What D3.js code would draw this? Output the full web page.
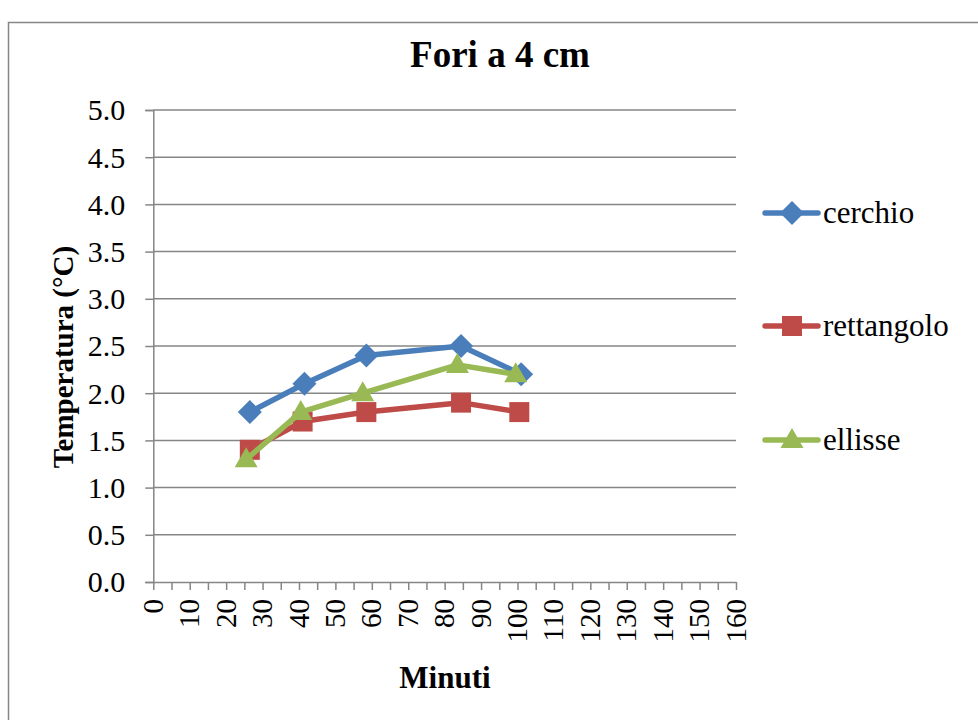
<!DOCTYPE html>
<html>
<head>
<meta charset="utf-8">
<script src="https://cdn.jsdelivr.net/npm/d3@7"></script>
<style>
  html, body { margin: 0; padding: 0; background: #ffffff; }
  svg { display: block; }
  text { font-family: "Liberation Serif", "Times New Roman", serif; fill: #000; }
</style>
</head>
<body>
<svg id="chart" width="978" height="720"></svg>
<script>
// ---- data ----
const seriesNames = ["cerchio", "rettangolo", "ellisse"];
const cerchioX = [26.5, 41.5, 58.5, 84.5, 101];
const cerchioY = [1.8, 2.1, 2.4, 2.5, 2.2];
const rettangoloX = [26.5, 41, 58.5, 84.5, 100.5];
const rettangoloY = [1.4, 1.7, 1.8, 1.9, 1.8];
const ellisseX = [25.5, 40.5, 57.5, 83.5, 99.5];
const ellisseY = [1.3, 1.8, 2.0, 2.3, 2.2];
const xTicks = [0, 10, 20, 30, 40, 50, 60, 70, 80, 90, 100, 110, 120, 130, 140, 150, 160];
const yTicks = [0.0, 0.5, 1.0, 1.5, 2.0, 2.5, 3.0, 3.5, 4.0, 4.5, 5.0];
const chartTitle = "Fori a 4 cm";
const xTitle = "Minuti";
const yTitle = "Temperatura (°C)";

(function () {
const colors = ["#4a7ebb", "#be4b48", "#98b954"];

// custom marker paths (centered at 0,0)
const markerPath = [
  "M0,-12L12,0L0,12L-12,0Z",          // diamond
  "M-10,-10L10,-10L10,10L-10,10Z",    // square
  "M0,-12L11.5,8L-11.5,8Z"            // triangle
];

const series = [
  { name: seriesNames[0], pts: cerchioX.map((x, i) => [x, cerchioY[i]]) },
  { name: seriesNames[1], pts: rettangoloX.map((x, i) => [x, rettangoloY[i]]) },
  { name: seriesNames[2], pts: ellisseX.map((x, i) => [x, ellisseY[i]]) }
];

const svg = d3.select("#chart");

// outer border
svg.append("rect")
  .attr("x", 8.5).attr("y", 22.5)
  .attr("width", 1000).attr("height", 800)
  .attr("fill", "#fff").attr("stroke", "#868686").attr("stroke-width", 1.5);

const pLeft = 153.3, pRight = 736, pTop = 110, pBottom = 582;
const x = d3.scaleLinear().domain([0, 160]).range([pLeft, pRight]);
const y = d3.scaleLinear().domain([0, 5]).range([pBottom, pTop]);

const gridColor = "#868686";

// gridlines
svg.append("g").selectAll("line").data(yTicks.slice(1)).join("line")
  .attr("x1", pLeft).attr("x2", pRight)
  .attr("y1", d => y(d)).attr("y2", d => y(d))
  .attr("stroke", gridColor).attr("stroke-width", 1.5);

// y axis
const yAxis = svg.append("g").attr("transform", `translate(${pLeft},0)`)
  .call(d3.axisLeft(y).tickValues(yTicks).tickFormat(d3.format(".1f")).tickSize(8).tickPadding(20));
yAxis.attr("font-family", null).attr("font-size", null);
yAxis.select(".domain").attr("stroke", gridColor).attr("stroke-width", 1.5);
yAxis.selectAll(".tick line").attr("stroke", gridColor).attr("stroke-width", 1.5);
yAxis.selectAll(".tick text").style("font-size", "30px").attr("fill", "#000").attr("dy", "0.33em");

// x axis
const minorTicks = d3.range(0, 161, 5);
const xAxis = svg.append("g").attr("transform", `translate(0,${pBottom})`)
  .call(d3.axisBottom(x).tickValues(minorTicks).tickFormat("").tickSize(8).tickSizeOuter(0));
xAxis.select(".domain").attr("stroke", gridColor).attr("stroke-width", 1.5);
xAxis.selectAll(".tick line").attr("stroke", gridColor).attr("stroke-width", 1.5);

svg.append("g").selectAll("text").data(xTicks).join("text")
  .attr("transform", d => `translate(${x(d)},${pBottom + 17}) rotate(-90)`)
  .attr("text-anchor", "end")
  .attr("dy", "0.33em")
  .style("font-size", "29px")
  .text(d => d);

// lines and markers
const line = d3.line().x(d => x(d[0])).y(d => y(d[1]));
series.forEach((s, i) => {
  svg.append("path").datum(s.pts)
    .attr("d", line).attr("fill", "none")
    .attr("stroke", colors[i]).attr("stroke-width", 5.5)
    .attr("stroke-linejoin", "round").attr("stroke-linecap", "round");
  svg.append("g").selectAll("path").data(s.pts).join("path")
    .attr("transform", d => `translate(${x(d[0])},${y(d[1])})`)
    .attr("d", markerPath[i])
    .attr("fill", colors[i]);
});

// title
svg.append("text").attr("x", 500).attr("y", 67)
  .attr("text-anchor", "middle").style("font-size", "37px").style("font-weight", "bold")
  .text(chartTitle);

// axis titles
svg.append("text").attr("x", 445).attr("y", 688)
  .attr("text-anchor", "middle").style("font-size", "31px").style("font-weight", "bold")
  .text(xTitle);
svg.append("text").attr("transform", `translate(73,357) rotate(-90)`)
  .attr("text-anchor", "middle").style("font-size", "29px").style("font-weight", "bold")
  .text(yTitle);

// legend
const legY = [213, 326, 440];
series.forEach((s, i) => {
  const g = svg.append("g").attr("transform", `translate(765,${legY[i]})`);
  g.append("line").attr("x1", 0).attr("x2", 53).attr("y1", 0).attr("y2", 0)
    .attr("stroke", colors[i]).attr("stroke-width", 5.5).attr("stroke-linecap", "round");
  g.append("path").attr("transform", "translate(27,0)")
    .attr("d", markerPath[i]).attr("fill", colors[i]);
  g.append("text").attr("x", 58).attr("y", 0).attr("dy", "0.33em")
    .style("font-size", "31px").text(s.name);
});
})();
</script>
</body>
</html>
